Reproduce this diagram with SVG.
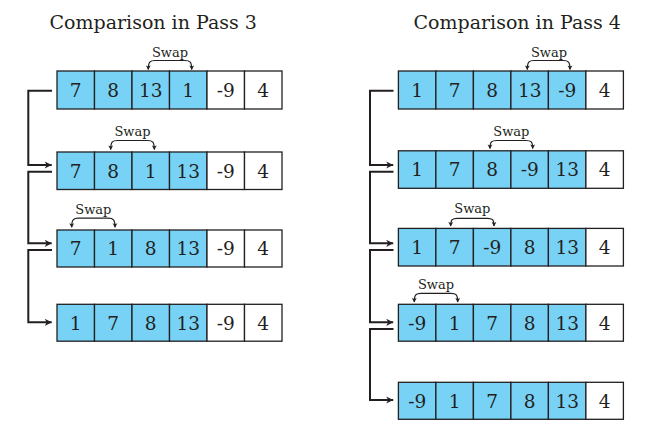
<svg xmlns="http://www.w3.org/2000/svg" width="647" height="433" viewBox="0 0 647 433">
<defs>
<style>
.t{font-family:"DejaVu Serif","Liberation Serif",serif;fill:#231f20}
.title{font-size:19px}
.num{font-size:18.5px;text-anchor:middle}
.swap{font-size:13px;text-anchor:middle}
.b{fill:#78d2f6;stroke:#231f20;stroke-width:1.3}
.w{fill:#ffffff;stroke:#231f20;stroke-width:1.3}
.conn{fill:none;stroke:#231f20;stroke-width:2}
.br{fill:none;stroke:#231f20;stroke-width:1.2}
</style>
<marker id="ah" markerUnits="userSpaceOnUse" markerWidth="10" markerHeight="10" viewBox="-8 -5 10 10" refX="0" refY="0" orient="auto">
<path d="M0,0 L-7,-3.6 L-5,0 L-7,3.6 Z" fill="#231f20"/>
</marker>
<marker id="sh" markerUnits="userSpaceOnUse" markerWidth="8" markerHeight="8" viewBox="-5 -4 6 8" refX="0" refY="0" orient="auto-start-reverse">
<path d="M0.5,0 L-4,-2.4 L-3,0 L-4,2.4 Z" fill="#231f20"/>
</marker>
</defs>
<rect width="647" height="433" fill="#ffffff"/>

<text class="t title" x="49.5" y="29">Comparison in Pass 3</text>
<text class="t title" x="413.5" y="29">Comparison in Pass 4</text>

<g id="connectors">
<path class="conn" d="M52,90.7 H28.3 V165 H51.7" marker-end="url(#ah)"/>
<path class="conn" d="M52,171.7 H28.3 V243.3 H51.7" marker-end="url(#ah)"/>
<path class="conn" d="M52,250 H28.3 V322.3 H51.7" marker-end="url(#ah)"/>
<path class="conn" d="M393.5,90.7 H370 V165 H393.2" marker-end="url(#ah)"/>
<path class="conn" d="M393.5,171.7 H370 V243.3 H393.2" marker-end="url(#ah)"/>
<path class="conn" d="M393.5,250 H370 V322.3 H393.2" marker-end="url(#ah)"/>
<path class="conn" d="M393.5,329 H370 V400 H393.2" marker-end="url(#ah)"/>
</g>

<g id="swaps">
<path class="br" d="M148.3,69.5 C148.3,62 150,60.5 155,60.5 H185 C190,60.5 191.7,62 191.7,69.5" marker-start="url(#sh)" marker-end="url(#sh)"/>
<text class="t swap" x="170" y="56.5">Swap</text>
<path class="br" d="M110.7,149.5 C110.7,142 112.4,140.5 117.4,140.5 H147.6 C152.6,140.5 154.3,142 154.3,149.5" marker-start="url(#sh)" marker-end="url(#sh)"/>
<text class="t swap" x="132.5" y="135.5">Swap</text>
<path class="br" d="M71.7,227.2 C71.7,219.7 73.4,218.2 78.4,218.2 H108.3 C113.3,218.2 115,219.7 115,227.2" marker-start="url(#sh)" marker-end="url(#sh)"/>
<text class="t swap" x="93.3" y="213.5">Swap</text>
<path class="br" d="M527.3,69.5 C527.3,62 529,60.5 534,60.5 H563.3 C568.3,60.5 570,62 570,69.5" marker-start="url(#sh)" marker-end="url(#sh)"/>
<text class="t swap" x="549" y="56.5">Swap</text>
<path class="br" d="M490,148.5 C490,141.5 491.7,140.5 496.7,140.5 H526 C531,140.5 532.7,141.5 532.7,148.5" marker-start="url(#sh)" marker-end="url(#sh)"/>
<text class="t swap" x="511.3" y="135.5">Swap</text>
<path class="br" d="M450.7,226 C450.7,219.5 452.4,218.3 457.4,218.3 H487.3 C492.3,218.3 494,219.5 494,226" marker-start="url(#sh)" marker-end="url(#sh)"/>
<text class="t swap" x="472.3" y="212.5">Swap</text>
<path class="br" d="M414.3,302 C414.3,294.5 416,293.3 421,293.3 H451 C456,293.3 457.7,294.5 457.7,302" marker-start="url(#sh)" marker-end="url(#sh)"/>
<text class="t swap" x="436" y="288.5">Swap</text>
</g>

<g id="pass3-row1">
<rect class="b" x="57" y="71" width="37.5" height="38"/><rect class="b" x="94.5" y="71" width="37.5" height="38"/><rect class="b" x="132" y="71" width="37.5" height="38"/><rect class="b" x="169.5" y="71" width="37.5" height="38"/><rect class="w" x="207" y="71" width="37.5" height="38"/><rect class="w" x="244.5" y="71" width="37.5" height="38"/>
<text class="t num" x="75.75" y="96.8">7</text><text class="t num" x="113.25" y="96.8">8</text><text class="t num" x="150.75" y="96.8">13</text><text class="t num" x="188.25" y="96.8">1</text><text class="t num" x="225.75" y="96.8">-9</text><text class="t num" x="263.25" y="96.8">4</text>
</g>
<g id="pass3-row2">
<rect class="b" x="57" y="152" width="37.5" height="37.5"/><rect class="b" x="94.5" y="152" width="37.5" height="37.5"/><rect class="b" x="132" y="152" width="37.5" height="37.5"/><rect class="b" x="169.5" y="152" width="37.5" height="37.5"/><rect class="w" x="207" y="152" width="37.5" height="37.5"/><rect class="w" x="244.5" y="152" width="37.5" height="37.5"/>
<text class="t num" x="75.75" y="177.6">7</text><text class="t num" x="113.25" y="177.6">8</text><text class="t num" x="150.75" y="177.6">1</text><text class="t num" x="188.25" y="177.6">13</text><text class="t num" x="225.75" y="177.6">-9</text><text class="t num" x="263.25" y="177.6">4</text>
</g>
<g id="pass3-row3">
<rect class="b" x="57" y="230" width="37.5" height="37"/><rect class="b" x="94.5" y="230" width="37.5" height="37"/><rect class="b" x="132" y="230" width="37.5" height="37"/><rect class="b" x="169.5" y="230" width="37.5" height="37"/><rect class="w" x="207" y="230" width="37.5" height="37"/><rect class="w" x="244.5" y="230" width="37.5" height="37"/>
<text class="t num" x="75.75" y="255.4">7</text><text class="t num" x="113.25" y="255.4">1</text><text class="t num" x="150.75" y="255.4">8</text><text class="t num" x="188.25" y="255.4">13</text><text class="t num" x="225.75" y="255.4">-9</text><text class="t num" x="263.25" y="255.4">4</text>
</g>
<g id="pass3-row4">
<rect class="b" x="57" y="304.3" width="37.5" height="36.9"/><rect class="b" x="94.5" y="304.3" width="37.5" height="36.9"/><rect class="b" x="132" y="304.3" width="37.5" height="36.9"/><rect class="b" x="169.5" y="304.3" width="37.5" height="36.9"/><rect class="w" x="207" y="304.3" width="37.5" height="36.9"/><rect class="w" x="244.5" y="304.3" width="37.5" height="36.9"/>
<text class="t num" x="75.75" y="329.6">1</text><text class="t num" x="113.25" y="329.6">7</text><text class="t num" x="150.75" y="329.6">8</text><text class="t num" x="188.25" y="329.6">13</text><text class="t num" x="225.75" y="329.6">-9</text><text class="t num" x="263.25" y="329.6">4</text>
</g>

<g id="pass4-row1">
<rect class="b" x="398.4" y="71" width="37.5" height="38"/><rect class="b" x="435.9" y="71" width="37.5" height="38"/><rect class="b" x="473.4" y="71" width="37.5" height="38"/><rect class="b" x="510.9" y="71" width="37.5" height="38"/><rect class="b" x="548.4" y="71" width="37.5" height="38"/><rect class="w" x="585.9" y="71" width="37.5" height="38"/>
<text class="t num" x="417.15" y="96.8">1</text><text class="t num" x="454.65" y="96.8">7</text><text class="t num" x="492.15" y="96.8">8</text><text class="t num" x="529.65" y="96.8">13</text><text class="t num" x="567.15" y="96.8">-9</text><text class="t num" x="604.65" y="96.8">4</text>
</g>
<g id="pass4-row2">
<rect class="b" x="398.4" y="150.8" width="37.5" height="37.5"/><rect class="b" x="435.9" y="150.8" width="37.5" height="37.5"/><rect class="b" x="473.4" y="150.8" width="37.5" height="37.5"/><rect class="b" x="510.9" y="150.8" width="37.5" height="37.5"/><rect class="b" x="548.4" y="150.8" width="37.5" height="37.5"/><rect class="w" x="585.9" y="150.8" width="37.5" height="37.5"/>
<text class="t num" x="417.15" y="176.4">1</text><text class="t num" x="454.65" y="176.4">7</text><text class="t num" x="492.15" y="176.4">8</text><text class="t num" x="529.65" y="176.4">-9</text><text class="t num" x="567.15" y="176.4">13</text><text class="t num" x="604.65" y="176.4">4</text>
</g>
<g id="pass4-row3">
<rect class="b" x="398.4" y="228.4" width="37.5" height="37.6"/><rect class="b" x="435.9" y="228.4" width="37.5" height="37.6"/><rect class="b" x="473.4" y="228.4" width="37.5" height="37.6"/><rect class="b" x="510.9" y="228.4" width="37.5" height="37.6"/><rect class="b" x="548.4" y="228.4" width="37.5" height="37.6"/><rect class="w" x="585.9" y="228.4" width="37.5" height="37.6"/>
<text class="t num" x="417.15" y="254.1">1</text><text class="t num" x="454.65" y="254.1">7</text><text class="t num" x="492.15" y="254.1">-9</text><text class="t num" x="529.65" y="254.1">8</text><text class="t num" x="567.15" y="254.1">13</text><text class="t num" x="604.65" y="254.1">4</text>
</g>
<g id="pass4-row4">
<rect class="b" x="398.4" y="304.3" width="37.5" height="36.9"/><rect class="b" x="435.9" y="304.3" width="37.5" height="36.9"/><rect class="b" x="473.4" y="304.3" width="37.5" height="36.9"/><rect class="b" x="510.9" y="304.3" width="37.5" height="36.9"/><rect class="b" x="548.4" y="304.3" width="37.5" height="36.9"/><rect class="w" x="585.9" y="304.3" width="37.5" height="36.9"/>
<text class="t num" x="417.15" y="329.6">-9</text><text class="t num" x="454.65" y="329.6">1</text><text class="t num" x="492.15" y="329.6">7</text><text class="t num" x="529.65" y="329.6">8</text><text class="t num" x="567.15" y="329.6">13</text><text class="t num" x="604.65" y="329.6">4</text>
</g>
<g id="pass4-row5">
<rect class="b" x="398.4" y="382.3" width="37.5" height="37"/><rect class="b" x="435.9" y="382.3" width="37.5" height="37"/><rect class="b" x="473.4" y="382.3" width="37.5" height="37"/><rect class="b" x="510.9" y="382.3" width="37.5" height="37"/><rect class="b" x="548.4" y="382.3" width="37.5" height="37"/><rect class="w" x="585.9" y="382.3" width="37.5" height="37"/>
<text class="t num" x="417.15" y="407.7">-9</text><text class="t num" x="454.65" y="407.7">1</text><text class="t num" x="492.15" y="407.7">7</text><text class="t num" x="529.65" y="407.7">8</text><text class="t num" x="567.15" y="407.7">13</text><text class="t num" x="604.65" y="407.7">4</text>
</g>
</svg>
